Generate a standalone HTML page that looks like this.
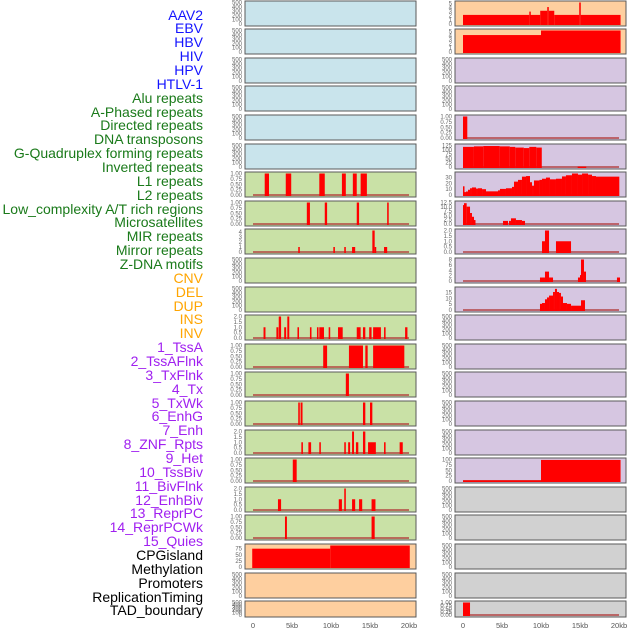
<!DOCTYPE html>
<html><head><meta charset="utf-8"><style>
html,body{margin:0;padding:0;background:#fff;}
#wrap{position:relative;width:630px;height:630px;overflow:hidden;font-family:"Liberation Sans",sans-serif;}
.lab{position:absolute;right:427px;font-size:14px;line-height:14px;white-space:nowrap;}
svg{position:absolute;left:0;top:0;}
</style></head><body>
<div id="wrap">
<div id="labels"></div>
<svg id="plot" width="630" height="630"></svg>
</div>
<script>
// ---- track labels ----
const trackNames=["AAV2","EBV","HBV","HIV","HPV","HTLV-1","Alu repeats","A-Phased repeats","Directed repeats","DNA transposons","G-Quadruplex forming repeats","Inverted repeats","L1 repeats","L2 repeats","Low_complexity A/T rich regions","Microsatellites","MIR repeats","Mirror repeats","Z-DNA motifs","CNV","DEL","DUP","INS","INV","1_TssA","2_TssAFlnk","3_TxFlnk","4_Tx","5_TxWk","6_EnhG","7_Enh","8_ZNF_Rpts","9_Het","10_TssBiv","11_BivFlnk","12_EnhBiv","13_ReprPC","14_ReprPCWk","15_Quies","CPGisland","Methylation","Promoters","ReplicationTiming","TAD_boundary"];
const trackGroups=[6,13,5,15,5];
const groupColors=["#1414ff","#1a7a1a","#ffa500","#a020f0","#000000"];

// ---- x axis ----
const xTicks=[0,5,10,15,20];
const xTickLabels=["0","5kb","10kb","15kb","20kb"];

// ---- tick sets ----
const t500=[0,100,200,300,400,500], t500L=["0","100","200","300","400","500"];
const t1=[0,0.25,0.5,0.75,1], t1L=["0.00","0.25","0.50","0.75","1.00"];
const t2=[0,0.5,1,1.5,2], t2L=["0.0","0.5","1.0","1.5","2.0"];

// ---- series data: [startKb, endKb, value] ----
const c1L1=[[1.5,2.05,1],[4.2,4.9,1],[8.5,9.2,1],[11.4,11.9,1],[12.8,13.3,1],[13.8,14.6,1]];
const c1LowComplex=[[6.9,7.3,1],[9.2,9.5,1],[13.3,13.6,1],[17.2,17.4,1]];
const c1MIR=[[5.8,6.0,1],[10.3,10.5,1],[11.7,11.9,1],[12.7,13.1,1],[15.3,15.6,4.3],[15.6,15.8,1],[16.8,17.2,1]];
const c1INS=[[1.35,1.6,1],[3.0,3.25,1],[3.3,3.6,2],[4.0,4.25,1],[4.4,4.65,2],[5.7,5.9,1],[7.3,7.5,1],[8.2,8.4,1],[8.5,9.1,1],[9.7,9.9,1],[10.9,11.5,1],[13.3,13.8,1],[14.1,14.4,1],[14.9,15.2,1],[15.4,16.4,1],[16.8,17.0,1],[19.5,19.8,1]];
const c1TssA=[[9.0,9.5,1],[12.3,14.1,1],[14.4,14.7,1],[15.4,19.4,1]];
const c1TxFlnk=[[11.9,12.3,1]];
const c1TxWk=[[5.8,6.0,1],[6.1,6.35,1],[14.1,14.4,1],[15.0,15.3,1]];
const c1Enh=[[6.2,6.4,1],[7.1,7.45,1],[8.5,8.7,1],[11.7,11.9,1],[12.2,12.45,1],[12.7,12.95,2],[13.2,13.5,1],[14.1,14.4,2],[14.75,15.75,1],[16.8,17.0,1],[18.8,19.2,1]];
const c1Het=[[5.1,5.6,1]];
const c1BivFlnk=[[3.2,3.6,1],[11.0,11.4,1],[11.7,11.9,2],[12.7,13.1,1],[13.6,14.0,1],[15.2,15.7,1]];
const c1ReprPC=[[4.1,4.35,1],[15.2,15.6,1]];
const c1CpG=[[-0.1,9.9,75],[9.9,20.1,88]];

const c2AAV2=[[0,8.5,2.2],[8.5,8.6,3],[8.6,9.9,2.2],[9.9,10.8,3.2],[10.8,11.0,4.1],[11.0,11.7,3.2],[11.7,14.9,2.2],[14.9,15.1,5.2],[15.1,20.2,2.2]];
const c2EBV=[[0,10,4.1],[10,20.2,5.2]];
const c2Directed=[[0,0.55,1]];
const c2DNA=[[0,1.4,117],[1.4,2.6,120],[2.6,4.7,122],[4.7,6.0,120],[6.0,6.7,117],[6.7,7.8,113],[7.8,8.5,110],[8.5,9.4,117],[9.4,10.1,113],[14.7,15.8,2]];
const c2GQuad=[[0,0.13,15],[0.13,0.38,5],[0.38,0.64,6],[0.64,0.9,9],[0.9,1.15,11.6],[1.15,1.67,13],[1.67,1.92,11],[1.92,2.44,11.6],[2.44,2.95,10],[2.95,4.49,6.3],[4.49,4.74,8],[4.74,5.51,10.5],[5.51,6.28,11.6],[6.28,6.54,14],[6.54,7.05,23],[7.05,7.56,26],[7.56,8.08,31.6],[8.08,8.59,32.6],[8.59,8.85,22],[8.85,9.1,16],[9.1,9.8,25],[9.8,10.13,26],[10.13,10.64,28],[10.64,11.15,30],[11.15,11.92,27],[11.92,12.69,28],[12.69,13.2,32],[13.2,13.97,34],[13.97,14.74,37],[14.74,15.26,35],[15.26,16.03,37],[16.03,16.54,35],[16.54,17.05,32.6],[17.05,20.04,31.6]];
const c2Inverted=[[0,0.13,11],[0.13,0.47,12.1],[0.47,0.9,10.1],[0.9,1.15,6.4],[1.15,1.41,4.2],[1.41,1.58,2.3],[5.13,5.77,1.8],[5.9,6.15,1.8],[6.15,6.79,3.3],[6.79,7.56,2.3],[7.56,7.95,1.8]];
const c2L1=[[10.13,10.51,1],[10.51,11.03,2],[11.92,13.85,1]];
const c2L2=[[9.87,10.51,1.3],[10.51,11.03,3.5],[11.03,11.54,1.3],[14.74,15.0,1.3],[15.0,15.13,2.2],[15.13,15.51,8],[15.51,15.77,3.5],[19.74,20.13,1.3]];
const c2LowComplex=[[9.87,10.13,5.3],[10.13,10.51,6],[10.51,10.77,9.2],[10.77,11.03,10.8],[11.03,11.54,12.4],[11.54,11.79,15.5],[11.79,12.05,18.2],[12.05,12.31,15.5],[12.31,12.56,14.7],[12.56,12.82,11.6],[12.82,13.33,6],[13.33,13.85,5.3],[13.85,15.13,3.7],[15.13,15.64,8.4]];
const c2Het=[[0,10,3],[10,20.2,98]];
const c2TAD=[[0,0.9,1]];

// ---- layout (not data) ----
const colX=[245,455];
const colW=171;
const rowTop=i=>Math.round(0.5+28.6*i);
const fills={b:"#c9e4ec",g:"#c9e1a6",o:"#fecf9f",p:"#d6c6e1",k:"#d1d1d1"};
const E=null;
const panels=[
 // col, row, fill, ticks, labels, vmax, data, baseline
 [0,0,"b",t500,t500L,500,E],[0,1,"b",t500,t500L,500,E],[0,2,"b",t500,t500L,500,E],[0,3,"b",t500,t500L,500,E],[0,4,"b",t500,t500L,500,E],[0,5,"b",t500,t500L,500,E],
 [0,6,"g",t1,t1L,1,c1L1],[0,7,"g",t1,t1L,1,c1LowComplex],[0,8,"g",[0,1,2,3,4],["0","1","2","3","4"],4.3,c1MIR],
 [0,9,"g",t500,t500L,500,E],[0,10,"g",t500,t500L,500,E],
 [0,11,"g",t2,t2L,2,c1INS],[0,12,"g",t1,t1L,1,c1TssA],[0,13,"g",t1,t1L,1,c1TxFlnk],[0,14,"g",t1,t1L,1,c1TxWk],
 [0,15,"g",t2,t2L,2,c1Enh],[0,16,"g",t1,t1L,1,c1Het],[0,17,"g",t2,t2L,2,c1BivFlnk],[0,18,"g",t1,t1L,1,c1ReprPC],
 [0,19,"o",[0,25,50,75],["0","25","50","75"],88,c1CpG,"nobase"],[0,20,"o",t500,t500L,500,E],[0,21,"o",t500,t500L,500,E],
 [1,0,"o",[0,1,2,3,4,5],["0","1","2","3","4","5"],5.2,c2AAV2,"nobase"],[1,1,"o",[0,1,2,3,4,5],["0","1","2","3","4","5"],5.2,c2EBV,"nobase"],
 [1,2,"p",t500,t500L,500,E],[1,3,"p",t500,t500L,500,E],
 [1,4,"p",t1,t1L,1,c2Directed],[1,5,"p",[0,25,50,75,100,125],["0","25","50","75","100","125"],125,c2DNA],
 [1,6,"p",[0,10,20,30],["0","10","20","30"],37,c2GQuad],[1,7,"p",[0,2.5,5,7.5,10,12.5],["0.0","2.5","5.0","7.5","10.0","12.5"],12.5,c2Inverted],
 [1,8,"p",t2,t2L,2,c2L1],[1,9,"p",[0,2,4,6,8],["0","2","4","6","8"],8,c2L2],[1,10,"p",[0,5,10,15],["0","5","10","15"],18.5,c2LowComplex],
 [1,11,"p",t500,t500L,500,E],[1,12,"p",t500,t500L,500,E],[1,13,"p",t500,t500L,500,E],[1,14,"p",t500,t500L,500,E],[1,15,"p",t500,t500L,500,E],
 [1,16,"p",[0,25,50,75,100],["0","25","50","75","100"],100,c2Het],
 [1,17,"k",t500,t500L,500,E],[1,18,"k",t500,t500L,500,E],[1,19,"k",t500,t500L,500,E],[1,20,"k",t500,t500L,500,E],[1,21,"k",t1,t1L,1,c2TAD]
];

const NS="http://www.w3.org/2000/svg";
const svg=document.getElementById("plot");
function mk(tag,attrs,parent){const e=document.createElementNS(NS,tag);for(const k in attrs)e.setAttribute(k,attrs[k]);(parent||svg).appendChild(e);return e;}

// labels
const labDiv=document.getElementById("labels");
let gi=0,cnt=0;
trackNames.forEach((n,i)=>{
  while(cnt>=trackGroups[gi]){gi++;cnt=0;}
  cnt++;
  const d=document.createElement("div");
  d.className="lab";
  d.style.top=(7.5+i*13.86)+"px";
  d.style.color=groupColors[gi];
  d.textContent=n;
  
  
  labDiv.appendChild(d);
});

// axis functions
function xScale(col,kb){return colX[col]+8+kb*7.8;}
function yScale(top,h,vmax,v){const y0=top+h-2;return y0-(v/vmax)*(h-3.5);}

panels.forEach(p=>{
  const [col,row,fill,ticks,tickL,vmax,data,flag]=p;
  const top=rowTop(row);
  const h=row===21?16:25;
  const x=colX[col];
  const g=mk("g",{});
  
  
  const bg=mk("rect",{x:x,y:top,width:colW,height:h,fill:fills[fill],stroke:"#5a5a5a","stroke-width":1},g);
  
  
  ticks.forEach((t,k)=>{
    const tx=mk("text",{x:x-3,y:yScale(top,h,ticks[ticks.length-1]===500?500:vmax,t)+2,"font-size":6,"text-anchor":"end",fill:"#666","font-family":"Liberation Sans, sans-serif"},g);
    tx.textContent=tickL[k];
    
    
  });
  if(data){
    if(flag!=="nobase"){
      const bl=mk("rect",{x:xScale(col,0),y:yScale(top,h,vmax,0)-1,width:xScale(col,20)-xScale(col,0),height:2,fill:"#b03a3a","fill-opacity":0.7},g);
      
      
    }
    data.forEach(s=>{
      const x1=xScale(col,s[0]),x2=xScale(col,s[1]);
      const y1=yScale(top,h,vmax,s[2]),y0=yScale(top,h,vmax,0);
      const r=mk("rect",{x:x1,y:Math.max(top,y1),width:Math.max(1.5,x2-x1),height:y0-Math.max(top,y1)+1,fill:"#ff0000"},g);
      
      
    });
  }
});

// x axis labels
[0,1].forEach(col=>{
  xTicks.forEach((t,k)=>{
    const tx=mk("text",{x:xScale(col,t),y:628,"font-size":7.5,"text-anchor":"middle",fill:"#555","font-family":"Liberation Sans, sans-serif"});
    tx.textContent=xTickLabels[k];
    
    
  });
});
</script>
</body></html>
